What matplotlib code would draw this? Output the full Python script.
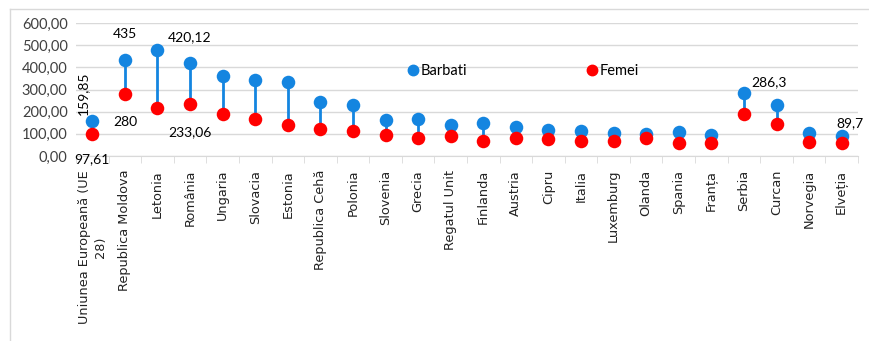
import numpy as np
import matplotlib.pyplot as plt
from matplotlib.lines import Line2D
from matplotlib.ticker import FuncFormatter

tari = ["Uniunea Europeană (UE\n28)", "Republica Moldova", "Letonia", "România",
        "Ungaria", "Slovacia", "Estonia", "Republica Cehă", "Polonia", "Slovenia",
        "Grecia", "Regatul Unit", "Finlanda", "Austria", "Cipru", "Italia",
        "Luxemburg", "Olanda", "Spania", "Franța", "Serbia", "Curcan",
        "Norvegia", "Elveția"]

barbati = [159.85, 435, 479, 420.12, 361, 343, 336, 243, 230, 163, 169, 140,
           150, 132, 117, 112, 105, 98, 110, 95, 286.3, 230, 105, 89.7]
femei = [97.61, 280, 218, 233.06, 190, 167, 140, 121, 114, 93, 80, 90,
         69, 80, 75, 68, 69, 80, 57, 57, 190, 145, 65, 57]

# etichete afisate: (index, seria, text)
etichete = [(0, "b", "159,85"), (0, "f", "97,61"), (1, "b", "435"), (1, "f", "280"),
            (3, "b", "420,12"), (3, "f", "233,06"), (20, "b", "286,3"), (23, "b", "89,7")]

albastru = "#1485e0"
rosu = "#ff0000"
font_val = "Lato"
fs_val = 10

fig = plt.figure(figsize=(8.69, 3.41), dpi=100)
ax = fig.add_axes([76/869, (341-156)/341, 782/869, 133/341])

x = np.arange(len(tari))
ax.vlines(x, femei, barbati, color=albastru, lw=2, zorder=2)
ax.scatter(x, barbati, s=95, color=albastru, zorder=3, linewidths=0)
ax.scatter(x, femei, s=95, color=rosu, zorder=4, linewidths=0)

ax.set_xlim(-0.5, len(tari) - 0.5)
ax.set_ylim(0, 600)
ax.set_yticks(np.arange(0, 601, 100))
ax.yaxis.set_major_formatter(FuncFormatter(lambda v, p: f"{v:.2f}".replace(".", ",")))
ax.grid(axis="y", color="#d9d9d9", lw=1)
ax.set_axisbelow(True)
for s in ["top", "right", "left"]:
    ax.spines[s].set_visible(False)
ax.spines["bottom"].set_color("#d9d9d9")
ax.tick_params(axis="y", length=0, labelsize=10.5, pad=6)
for t in ax.get_yticklabels():
    t.set_fontfamily(font_val)
    t.set_color("#404040")

ax.set_xticks(x)
ax.set_xticklabels(tari, rotation=90, fontsize=9.3, va="top", ha="center",
                   linespacing=1.25, color="#222222")
ax.tick_params(axis="x", length=0, pad=10)
ax.set_xticks(np.arange(-0.5, len(tari), 1), minor=True)
ax.tick_params(axis="x", which="minor", length=5, color="#d9d9d9")

for i, serie, txt in etichete:
    if serie == "b":
        v = barbati[i]
    else:
        v = femei[i]
    if i == 0 and serie == "b":
        ax.text(i - 0.28, v + 25, txt, rotation=90, ha="center", va="bottom",
                fontsize=fs_val, family=font_val)
    elif i == 0:
        ax.text(i, v - 85, txt, ha="center", va="top", fontsize=fs_val, family=font_val)
    elif i == 23:
        ax.text(i + 0.25, v + 30, txt, ha="center", va="bottom", fontsize=fs_val, family=font_val)
    elif i == 20:
        ax.text(i + 0.22, v + 20, txt, ha="left", va="bottom", fontsize=fs_val, family=font_val)
    elif serie == "b":
        ax.text(i, v + 88, txt, ha="center", va="bottom", fontsize=fs_val, family=font_val)
    else:
        ax.text(i, v - 100, txt, ha="center", va="top", fontsize=fs_val, family=font_val)

h = [Line2D([], [], marker="o", ls="", color=albastru, markersize=7.5, label="Barbati"),
     Line2D([], [], marker="o", ls="", color=rosu, markersize=7.5, label="Femei")]
ax.legend(handles=h, loc="center left", bbox_to_anchor=((396-76)/782, 0.64), ncol=2,
          frameon=False, handlelength=0.5, handletextpad=0.3, columnspacing=8.3,
          prop={"family": font_val, "size": 10.5})

# chenarul graficului
fig.add_artist(Line2D([10/869, 10/869], [0, 1 - 9/341], color="#d9d9d9", lw=1))
fig.add_artist(Line2D([10/869, 1], [1 - 9/341, 1 - 9/341], color="#d9d9d9", lw=1))

fig.savefig("out.png", dpi=100)
